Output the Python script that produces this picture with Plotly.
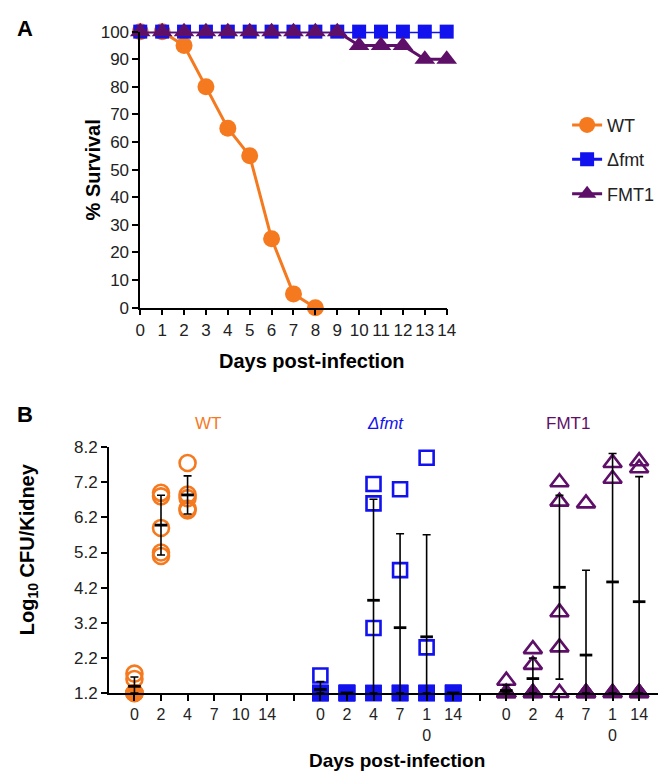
import numpy as np
import plotly.graph_objects as go

W, H = 666, 774
FONT = "Liberation Sans, Arial, sans-serif"

# ---- panel A: survival ----
days_a = list(range(15))
wt_surv = [100, 100, 95, 80, 65, 55, 25, 5, 0]
dfmt_surv = [100] * 15
fmt1_surv = [100, 100, 100, 100, 100, 100, 100, 100, 100, 100, 95, 95, 95, 90, 90]

# ---- panel B: kidney burden (log10 CFU) ----
days_b = [0, 2, 4, 7, 10, 14]
lod = 1.2
wt_cfu = [
    [1.75, 1.6, 1.2, 1.2, 1.2],
    [6.9, 6.8, 5.9, 5.2, 5.1],
    [7.75, 6.85, 6.75, 6.45, 6.4],
    [], [], [],
]
dfmt_cfu = [
    [1.7, 1.2, 1.2, 1.2, 1.2],
    [1.2, 1.2, 1.2, 1.2, 1.2],
    [7.15, 6.6, 3.05, 1.2, 1.2],
    [7.0, 4.7, 1.2, 1.2, 1.2],
    [7.9, 2.5, 1.2, 1.2, 1.2],
    [1.2, 1.2, 1.2, 1.2, 1.2],
]
fmt1_cfu = [
    [1.55, 1.2, 1.2, 1.2, 1.2],
    [2.45, 2.0, 1.2, 1.2, 1.2],
    [7.2, 6.65, 3.5, 2.5, 1.2],
    [6.6, 1.2, 1.2, 1.2, 1.2],
    [7.75, 7.3, 1.2, 1.2],
    [7.8, 7.6, 1.2, 1.2, 1.2],
]

ORANGE = "#F57A1F"
BLUE = "#1212EE"
PURPLE = "#5E0F68"


def px(x):
    return x / W


def py(y):
    return 1 - y / H


fig = go.Figure()

# survival curves
for name, ys, col, sym, sz in [
    ("WT", wt_surv, ORANGE, "circle", 17),
    ("\u0394fmt", dfmt_surv, BLUE, "square", 14),
    ("FMT1", fmt1_surv, PURPLE, "triangle-up", 18),
]:
    fig.add_trace(go.Scatter(
        x=days_a[:len(ys)], y=ys, name=name, mode="lines+markers",
        line=dict(color=col, width=3),
        marker=dict(symbol=sym, size=sz, color=col),
        cliponaxis=False, legendgroup=name, xaxis="x", yaxis="y",
    ))

# CFU scatter, one group per strain, blank slot between groups
groups = [
    (wt_cfu, ORANGE, "circle", 16, 0),
    (dfmt_cfu, BLUE, "square", 14, 7),
    (fmt1_cfu, PURPLE, "triangle-up", 16, 14),
]
for data, col, sym, sz, off in groups:
    xs, ys, fills = [], [], []
    mx, my, sd_up, sd_dn = [], [], [], []
    for i, vals in enumerate(data):
        if not vals:
            continue
        n_lod = sum(1 for v in vals if v <= lod)
        for v in vals:
            xs.append(off + i)
            ys.append(v)
            fills.append(col if (v <= lod and n_lod > 1) else "rgba(0,0,0,0)")
        m = float(np.mean(vals))
        s = float(np.std(vals, ddof=1)) if len(vals) > 1 else 0.0
        mx.append(off + i)
        my.append(m)
        sd_up.append(s)
        sd_dn.append(min(s, m - lod))
    fig.add_trace(go.Scatter(
        x=xs, y=ys, mode="markers", showlegend=False,
        marker=dict(symbol=sym, size=sz, color=fills,
                    line=dict(color=col, width=2.6)),
        cliponaxis=False, xaxis="x2", yaxis="y2",
    ))
    fig.add_trace(go.Scatter(
        x=mx, y=my, mode="markers", showlegend=False,
        marker=dict(symbol="line-ew", size=9, line=dict(color="black", width=2.8)),
        error_y=dict(type="data", array=sd_up, arrayminus=sd_dn, color="black",
                     thickness=1.6, width=4),
        cliponaxis=False, xaxis="x2", yaxis="y2",
    ))

b_ticks = [0, 1, 2, 3, 4, 5, 7, 8, 9, 10, 11, 12, 14, 15, 16, 17, 18, 19]
b_labels = ["0", "2", "4", "7", "10", "14",
            "0", "2", "4", "7", "1<br>0", "14",
            "0", "2", "4", "7", "1<br>0", "14"]

tickfont = dict(family=FONT, size=17, color="#222")
axis_common = dict(showline=True, linecolor="black", linewidth=1.6, ticks="outside",
                   ticklen=6, tickwidth=1.6, tickcolor="black", showgrid=False,
                   zeroline=False, tickfont=tickfont)

fig.update_layout(
    width=W, height=H, plot_bgcolor="white", paper_bgcolor="white",
    margin=dict(l=0, r=0, t=0, b=0),
    font=dict(family=FONT, color="black"),
    xaxis=dict(domain=[px(130), px(443)], range=[0, 14], dtick=1, anchor="y", **axis_common),
    yaxis=dict(domain=[py(298), py(15)], range=[0, 100], dtick=10, anchor="x", **axis_common),
    xaxis2=dict(domain=[px(98), px(664)], range=[-0.96, 19.9], tickvals=b_ticks,
                ticktext=b_labels, anchor="y2",
                minor=dict(ticks="outside", tick0=0, dtick=1, ticklen=6, tickwidth=1.6,
                           tickcolor="black", showgrid=False),
                **{**axis_common, "tickfont": dict(family=FONT, size=16, color="#222")}),
    yaxis2=dict(domain=[py(693), py(441)], range=[1.2, 8.2],
                tickvals=[1.2 + k for k in range(8)],
                ticktext=["%.1f" % (1.2 + k) for k in range(8)], anchor="x2", **axis_common),
    legend=dict(x=px(566), y=py(92), xanchor="left", yanchor="top",
                font=dict(family=FONT, size=18, color="#222"),
                bgcolor="rgba(0,0,0,0)", tracegroupgap=8, itemwidth=30),
    showlegend=True,
)

ann = [
    ("<b>A</b>", 12, 12, 22, "black", 0),
    ("<b>B</b>", 12, 408, 22, "black", 0),
    ("<b>% Survival</b>", 82, 157, 20, "black", -90),
    ("<b>Days post-infection</b>", 305, 353, 20, "black", 0),
    ("<b>Log<sub>10</sub> CFU/Kidney</b>", 16, 546, 20, "black", -90),
    ("<b>Days post-infection</b>", 392, 762, 19, "black", 0),
    ("WT", 199, 417, 17, ORANGE, 0),
    ("<i>\u0394fmt</i>", 380, 417, 17, BLUE, 0),
    ("FMT1", 567, 417, 17, PURPLE, 0),
]
for text, x, y, size, col, ang in ann:
    fig.add_annotation(text=text, x=px(x), y=py(y), xref="paper", yref="paper",
                       showarrow=False, textangle=ang, xanchor="center", yanchor="middle",
                       font=dict(family=FONT, size=size, color=col))

fig.write_html("out.html")
